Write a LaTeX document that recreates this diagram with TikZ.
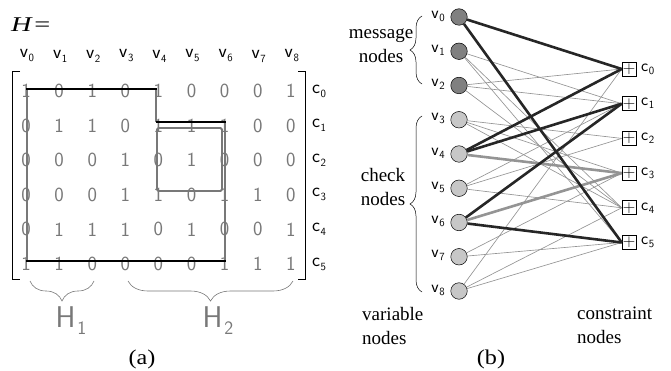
\documentclass[tikz,border=0pt]{standalone}
\usepackage{fontspec}
\setmainfont{Liberation Serif}
\usetikzlibrary{decorations.pathreplacing}
\definecolor{digitgray}{gray}{0.47}
\definecolor{edgegray}{gray}{0.58}
\definecolor{darkfill}{gray}{0.50}
\definecolor{lightfill}{gray}{0.78}
% indexed sans label: letter, index, index size, drop of the index
\newcommand\idxlab[4]{#1\kern0.6pt\raisebox{-#4}{\fontsize{#3}{#3}\selectfont #2}}
\begin{document}
\begin{tikzpicture}[x=1pt,y=-1pt,
  digit/.style={font=\fontsize{20}{20}\sffamily, text=digitgray, inner sep=0pt},
  collab/.style={font=\fontsize{19}{19}\sffamily, inner sep=0pt},
  grlab/.style={font=\fontsize{17}{17}\sffamily, inner sep=0pt},
  serif/.style={font=\fontsize{19}{24}\selectfont, inner sep=0pt, align=left},
  caption/.style={font=\fontsize{21}{21}\selectfont, inner sep=0pt},
  bracket/.style={line width=1pt},
  hline/.style={line width=1.1pt, black},
  gline/.style={line width=1.8pt, digitgray},
  gbrace/.style={decorate, decoration={brace, amplitude=20pt}, digitgray, line width=0.6pt},
  bbrace/.style={decorate, decoration={brace, amplitude=12pt}, black, line width=0.5pt},
  varnode/.style={circle, draw=black, line width=0.5pt, minimum size=16.5pt, inner sep=0pt},
  msgnode/.style={varnode, fill=darkfill},
  chknode/.style={varnode, fill=lightfill},
  connode/.style={rectangle, draw=black, line width=0.6pt, minimum size=14pt, inner sep=0pt,
    font=\fontsize{16}{16}\selectfont},
  thin edge/.style={edgegray, line width=0.65pt},
  cycle edge/.style={black!85, line width=2.6pt},
  gray cycle edge/.style={edgegray, line width=2.6pt},
]
\useasboundingbox (0,0) rectangle (671,371);

% ---------------- (a) parity-check matrix ----------------
\node[font=\fontsize{21}{21}\selectfont, anchor=west, inner sep=0pt] (Hlabel) at (11,25)
  {\scalebox{1.35}[1]{\textit{H}\kern1pt=}};

% column labels
\foreach \j in {0,...,8}
  \node[collab] (v-lab-\j) at ({27+33.1*\j},56) {\idxlab{v}{\j}{11}{4pt}};

% matrix entries and row labels
\foreach \row [count=\i from 0] in {{1,0,1,0,1,0,0,0,1},{0,1,1,0,1,1,1,0,0},{0,0,0,1,0,1,0,0,0},
                                    {0,0,0,1,1,0,1,1,0},{0,1,1,1,0,1,0,0,1},{1,1,0,0,0,0,1,1,1}}{
  \foreach \val [count=\j from 0] in \row
    \node[digit] (m-\i-\j) at ({26+33.1*\j},{91+34.6*\i}) {\val};
  \node[collab, anchor=west] (c-lab-\i) at (312,{91+34.6*\i}) {\idxlab{c}{\i}{11}{4pt}};
}

% brackets
\draw[bracket] (20,72) -- (12.5,72) -- (12.5,279) -- (20,279);
\draw[bracket] (298,72) -- (305.5,72) -- (305.5,279) -- (298,279);

% outline of the sub-matrix rows
\draw[gline] (27,89) -- (27,261);
\draw[gline] (156,89) -- (156,122);
\draw[gline] (225,122) -- (225,261);
\draw[gline, rounded corners=1.5pt] (157,128) rectangle (222,191);
\draw[hline] (26,89) -- (157,89);
\draw[hline] (156,122) -- (226,122);
\draw[hline] (26,261) -- (226,261);

% column braces
\draw[gbrace] (94,281) -- (30,281);
\draw[gbrace] (293,281) -- (128,281);
\node[font=\fontsize{30}{30}\sffamily, text=digitgray, inner sep=0pt] (H1) at (71,321)
  {H\kern2pt\raisebox{-7pt}{\fontsize{19}{19}\selectfont 1}};
\node[font=\fontsize{30}{30}\sffamily, text=digitgray, inner sep=0pt] (H2) at (218,321)
  {H\kern2pt\raisebox{-7pt}{\fontsize{19}{19}\selectfont 2}};

\node[caption] (capa) at (142,359) {\scalebox{1.15}[1]{(a)}};

% ---------------- (b) Tanner graph ----------------
\foreach \i in {0,1,2}
  \node[msgnode] (v\i) at (459,{17+34.25*\i}) {};
\foreach \i in {3,...,8}
  \node[chknode] (v\i) at (459,{17+34.25*\i}) {};
\foreach \i in {0,...,8}
  \node[grlab, anchor=east] (vl\i) at (445,{16+34.25*\i}) {\idxlab{v}{\i}{11}{3pt}};

\foreach \j in {0,...,5}{
  \node[connode] (c\j) at (629,{69+34.7*\j}) {$+$};
  \node[grlab, anchor=west] (cl\j) at (641,{69+34.7*\j}) {\idxlab{c}{\j}{11}{3pt}};
}

% ordinary edges
\foreach \v/\c in {2/0,8/0, 1/1,2/1,5/1, 3/2,5/2, 3/3,7/3, 1/4,2/4,3/4,5/4,8/4, 1/5,7/5,8/5}
  \draw[thin edge] (v\v) -- (c\c.west);
% the highlighted cycle
\draw[gray cycle edge] (v4) -- (c3.west);
\draw[gray cycle edge] (v6) -- (c3.west);
\foreach \v/\c in {0/0,0/5,4/0,4/1,6/1,6/5}
  \draw[cycle edge] (v\v) -- (c\c.west);

% node groups
\draw[bbrace] (422,84) -- (422,16);
\draw[bbrace] (422,292) -- (422,116);
\node[serif, align=center] (msg) at (381,46) {message\\nodes};
\node[serif, align=center] (chk) at (383,187) {check\\nodes};
\node[serif, anchor=north west] (vartxt) at (362,307) {variable\\nodes};
\node[serif, anchor=north west] (contxt) at (577,307) {constraint\\nodes};
\node[caption] (capb) at (491,359) {\scalebox{1.15}[1]{(b)}};
\end{tikzpicture}
\end{document}
